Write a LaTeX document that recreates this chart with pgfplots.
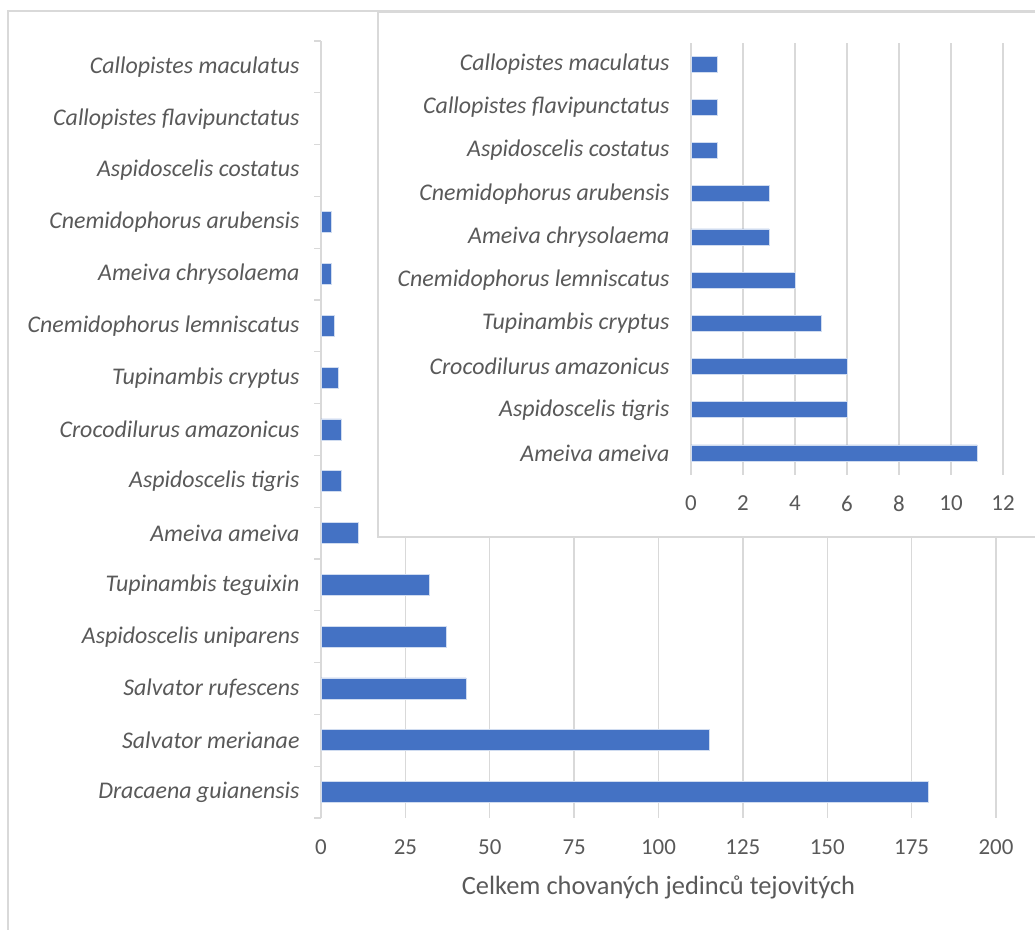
\documentclass[border=0pt]{standalone}
\usepackage{pgfplots}
\pgfplotsset{compat=1.18}
\usepackage{fontspec}
\setmainfont{Carlito}
\definecolor{barc}{HTML}{4472C4}
\definecolor{txt}{HTML}{595959}
\definecolor{grd}{HTML}{D9D9D9}
\begin{document}
\begin{tikzpicture}[x=1bp,y=1bp]
\path[use as bounding box] (0,0) rectangle (1035,930);
\draw[grd, line width=1.3bp] (8,-20) -- (8,919) -- (1050,919);
\begin{axis}[
  at={(321bp,112bp)}, anchor=south west,
  scale only axis, width=675bp, height=777bp,
  xmin=0, xmax=200, ymin=-0.5, ymax=14.5,
  xtick={0,25,...,200},
  ytick={0,...,14},
  minor ytick={-0.5,0.5,...,14.5},
  yticklabels={Dracaena guianensis, Salvator merianae, Salvator rufescens, Aspidoscelis uniparens, Tupinambis teguixin, Ameiva ameiva, Aspidoscelis tigris, Crocodilurus amazonicus, Tupinambis cryptus, Cnemidophorus lemniscatus, Ameiva chrysolaema, Cnemidophorus arubensis, Aspidoscelis costatus, Callopistes flavipunctatus, Callopistes maculatus},
  axis lines*=left,
  x axis line style={draw=none},
  y axis line style={grd, line width=1.3bp},
  major tick length=0pt,
  minor tick length=7bp,
  tick align=outside,
  minor tick style={grd, line width=1.3bp},
  xmajorgrids,
  grid style={grd, line width=1.3bp},
  /pgf/number format/assume math mode=true,
  tick label style={font=\fontsize{23}{26}\selectfont, text=txt},
  yticklabel style={font=\fontsize{24}{27}\selectfont\itshape, text=txt, xshift=-18bp},
  xticklabel style={yshift=-18bp},
  xlabel={Celkem chovaných jedinců tejovitých},
  xlabel style={font=\fontsize{26.5}{30}\selectfont, text=txt, yshift=-14bp},
  clip=false,
]
\addplot[xbar, bar width=21bp, fill=barc, draw=white!75!barc, line width=0.6bp] coordinates {
  (180,0) (115,1) (43,2) (37,3) (32,4) (11,5) (6,6) (6,7) (5,8) (4,9) (3,10) (3,11)
};
\end{axis}
\fill[white] (378,393) rectangle (1034.5,918);
\draw[grd, line width=1.3bp] (1034.5,393) -- (378,393) -- (378,918) -- (1034.5,918);
\begin{axis}[
  at={(691bp,455.4bp)}, anchor=south west,
  scale only axis, width=312bp, height=432bp,
  xmin=0, xmax=12, ymin=-0.5, ymax=9.5,
  xtick={0,2,...,12},
  ytick={0,...,9},
  yticklabels={Ameiva ameiva, Aspidoscelis tigris, Crocodilurus amazonicus, Tupinambis cryptus, Cnemidophorus lemniscatus, Ameiva chrysolaema, Cnemidophorus arubensis, Aspidoscelis costatus, Callopistes flavipunctatus, Callopistes maculatus},
  axis line style={draw=none},
  major tick length=0pt,
  xmajorgrids,
  grid style={grd, line width=1.3bp},
  /pgf/number format/assume math mode=true,
  tick label style={font=\fontsize{23}{26}\selectfont, text=txt},
  yticklabel style={font=\fontsize{24}{27}\selectfont\itshape, text=txt, xshift=-18bp},
  xticklabel style={yshift=-18bp},
  clip=false,
]
\addplot[xbar, bar width=16bp, fill=barc, draw=white!75!barc, line width=0.6bp] coordinates {
  (11,0) (6,1) (6,2) (5,3) (4,4) (3,5) (3,6) (1,7) (1,8) (1,9)
};
\end{axis}
\end{tikzpicture}
\end{document}
